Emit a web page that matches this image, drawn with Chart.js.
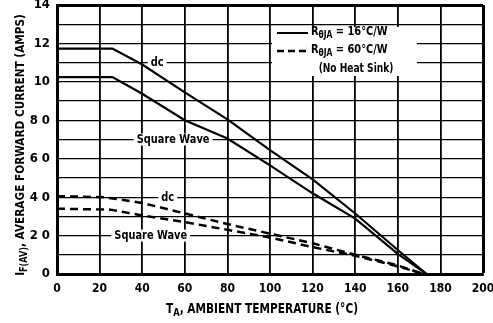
<!DOCTYPE html>
<html>
<head>
<meta charset="utf-8">
<script src="https://cdn.jsdelivr.net/npm/chart.js@4"></script>
<style>
  html, body { margin: 0; padding: 0; background: #fff; }
  #chart { display: block; }
</style>
</head>
<body>
<canvas id="chart" width="493" height="323"></canvas>
<script>
// --- Data ---
// R(theta)JA = 16 C/W, solid
const tDc16 = [0, 26, 40, 60, 80, 100, 120, 140, 160, 173.5];
const iDc16 = [11.73, 11.73, 10.9, 9.45, 8.05, 6.45, 4.93, 3.15, 1.25, 0];
const tSq16 = [0, 26, 40, 60, 80, 100, 120, 140, 160, 173.5];
const iSq16 = [10.25, 10.25, 9.38, 8.0, 7.05, 5.65, 4.2, 2.88, 1.05, 0];
// R(theta)JA = 60 C/W (no heat sink), dashed
const tDc60 = [0, 22, 40, 60, 80, 100, 120, 140, 160, 172];
const iDc60 = [4.05, 4.0, 3.7, 3.15, 2.6, 2.1, 1.6, 1.0, 0.45, 0];
const tSq60 = [0, 25, 40, 60, 80, 100, 120, 140, 160, 172];
const iSq60 = [3.4, 3.35, 3.05, 2.7, 2.3, 1.9, 1.4, 0.95, 0.4, 0];

const xTicks = ["0", "20", "40", "60", "80", "100", "120", "140", "160", "180", "200"];
const yTicks = ["0", "2 0", "4 0", "6 0", "8 0", "10", "12", "14"];
const curveNames = ["dc", "Square Wave", "dc", "Square Wave"];

const FONT = "'Liberation Sans Narrow', 'DejaVu Sans Condensed', 'Liberation Sans', sans-serif";
const $ = (id) => document.getElementById(id);
const pts = (xs, ys) => xs.map((x, i) => ({ x, y: ys[i] }));

// draw text with optional subscript parts, squeezed horizontally by k
function richText(ctx, parts, x, y, size, align, k = 0.84) {
  const big = `bold ${size}px ${FONT}`;
  const small = `bold ${Math.round(size * 0.75)}px ${FONT}`;
  let w = 0;
  parts.forEach((p) => {
    ctx.font = p.sub ? small : big;
    p.w = ctx.measureText(p.t).width;
    w += p.w;
  });
  ctx.save();
  ctx.translate(x, y);
  ctx.scale(k, 1);
  let cx = align === "center" ? -w / 2 : 0;
  ctx.textAlign = "left";
  ctx.textBaseline = "middle";
  parts.forEach((p) => {
    ctx.font = p.sub ? small : big;
    ctx.fillText(p.t, cx, p.sub ? size * 0.3 : 0);
    cx += p.w;
  });
  ctx.restore();
  return w * k;
}

const extras = {
  id: "extras",
  beforeDatasetsDraw(chart) {
    const { ctx, scales } = chart;
    const xs = scales.x, ys = scales.y;
    ctx.save();
    // curve labels sitting on grid lines
    const at = [[47, 11], [54.5, 7], [52, 4], [44, 2]];
    ctx.font = `bold 13px ${FONT}`;
    curveNames.forEach((name, i) => {
      const px = xs.getPixelForValue(at[i][0]);
      const py = ys.getPixelForValue(at[i][1]);
      const w = ctx.measureText(name).width * 0.84;
      ctx.fillStyle = "#fff";
      ctx.fillRect(px - w / 2 - 3, py - 6, w + 6, 12);
      ctx.fillStyle = "#000";
      richText(ctx, [{ t: name }], px, py, 13, "center");
    });
    ctx.restore();
  },
  afterDraw(chart) {
    const { ctx } = chart;
    ctx.save();
    // legend box
    ctx.fillStyle = "#fff";
    ctx.fillRect(272, 27, 145, 49);
    ctx.fillStyle = "#000";
    ctx.strokeStyle = "#000";
    ctx.lineWidth = 2;
    ctx.beginPath();
    ctx.moveTo(277, 33); ctx.lineTo(308, 33);
    ctx.stroke();
    ctx.setLineDash([7, 4]);
    ctx.lineWidth = 2.5;
    ctx.beginPath();
    ctx.moveTo(277, 51); ctx.lineTo(308, 51);
    ctx.stroke();
    ctx.setLineDash([]);
    richText(ctx, [{ t: "R" }, { t: "θJA", sub: true }, { t: " = 16°C/W" }], 311, 32, 13, "left");
    richText(ctx, [{ t: "R" }, { t: "θJA", sub: true }, { t: " = 60°C/W" }], 311, 50, 13, "left");
    richText(ctx, [{ t: "(No Heat Sink)" }], 356, 69, 12, "center");

    // axis titles
    richText(ctx, [{ t: "T" }, { t: "A", sub: true }, { t: ", AMBIENT TEMPERATURE (°C)" }], 262, 309, 14, "center");
    ctx.translate(21, 145);
    ctx.rotate(-Math.PI / 2);
    richText(ctx, [{ t: "I" }, { t: "F(AV)", sub: true }, { t: ", AVERAGE FORWARD CURRENT (AMPS)" }], 0, 0, 13, "center", 0.9);
    ctx.restore();
  },
};

const base = { borderColor: "#000", pointRadius: 0, fill: false, tension: 0 };

new Chart($("chart").getContext("2d"), {
  type: "line",
  data: {
    datasets: [
      { ...base, data: pts(tDc16, iDc16), borderWidth: 2.2 },
      { ...base, data: pts(tSq16, iSq16), borderWidth: 2.2 },
      { ...base, data: pts(tDc60, iDc60), borderWidth: 2.5, borderDash: [8, 5] },
      { ...base, data: pts(tSq60, iSq60), borderWidth: 2.5, borderDash: [8, 5] },
    ],
  },
  options: {
    responsive: false,
    animation: false,
    devicePixelRatio: 1,
    layout: { padding: { top: 5, right: 0, left: 0, bottom: 0 } },
    plugins: { legend: { display: false }, tooltip: { enabled: false } },
    scales: {
      x: {
        type: "linear",
        min: 0,
        max: 200,
        afterFit: (s) => { s.height = 49; s.paddingRight = 10; s.paddingLeft = 0; },
        ticks: {
          stepSize: 20,
          padding: 8,
          color: "#000",
          font: { family: FONT, size: 12, weight: "bold" },
          callback: (v) => xTicks[v / 20],
        },
        grid: {
          color: "#000",
          drawTicks: false,
          lineWidth: (c) => (c.tick && c.tick.value === 200 ? 3 : 1.8),
        },
        border: { color: "#000", width: 3 },
      },
      y: {
        min: 0,
        max: 14,
        afterFit: (s) => { s.width = 57; s.paddingTop = 0; s.paddingBottom = 0; },
        ticks: {
          stepSize: 1,
          padding: 7,
          color: "#000",
          font: { family: FONT, size: 13, weight: "bold" },
          callback: (v) => (v % 2 === 0 ? yTicks[v / 2] : ""),
        },
        grid: {
          color: "#000",
          drawTicks: false,
          lineWidth: (c) => (c.tick && c.tick.value === 14 ? 3 : 1.2),
        },
        border: { color: "#000", width: 3 },
      },
    },
  },
  plugins: [extras],
});
</script>
</body>
</html>
